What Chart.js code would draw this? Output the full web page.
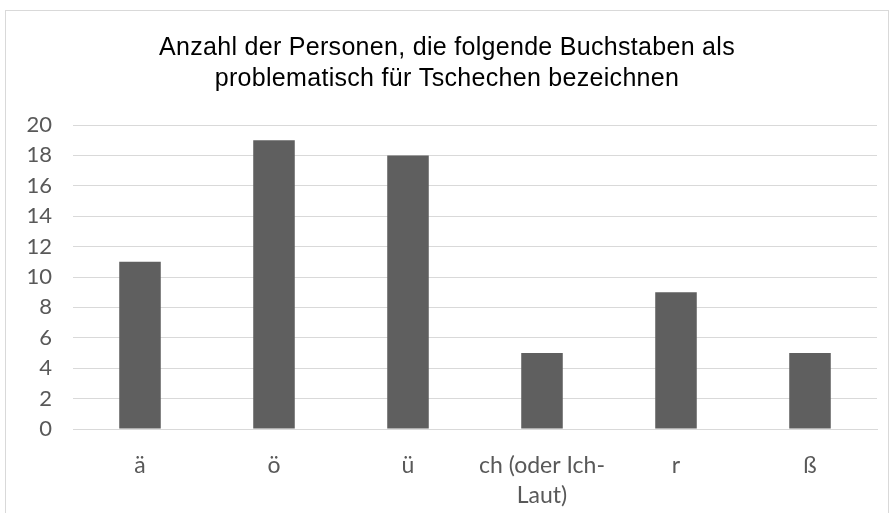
<!DOCTYPE html>
<html><head><meta charset="utf-8">
<script src="https://cdn.jsdelivr.net/npm/chart.js@4/dist/chart.umd.min.js"></script>
<style>
html,body{margin:0;padding:0;background:#fff;}
#wrap{position:absolute;left:0;top:0;width:893px;height:513px;}
#frame{position:absolute;left:5px;top:10px;width:884px;height:510px;border:1px solid #d9d9d9;box-sizing:border-box;}
canvas{position:absolute;left:0;top:0;}
</style></head>
<body>
<div id="wrap"><div id="frame"></div><canvas id="c" width="893" height="513"></canvas></div>
<script>
const categories = ['ä', 'ö', 'ü', ['ch (oder Ich-', 'Laut)'], 'r', 'ß'];
const values = [11, 19, 18, 5, 9, 5];
const titleLines = ['Anzahl der Personen, die folgende Buchstaben als', 'problematisch für Tschechen bezeichnen'];
const yTicks = [0, 2, 4, 6, 8, 10, 12, 14, 16, 18, 20];

const titlePlugin = {
  id: 'customTitle',
  afterDraw(chart) {
    const ctx = chart.ctx;
    ctx.save();
    ctx.font = '25px "Liberation Sans", Arial, sans-serif';
    if ('letterSpacing' in ctx) ctx.letterSpacing = '0.3px';
    ctx.fillStyle = '#000';
    ctx.textAlign = 'center';
    ctx.textBaseline = 'alphabetic';
    ctx.fillText(titleLines[0], 447, 55);
    ctx.fillText(titleLines[1], 447, 86);
    ctx.restore();
  }
};

new Chart(document.getElementById('c'), {
  type: 'bar',
  data: { labels: categories, datasets: [{ data: values, backgroundColor: '#5f5f5f', borderColor: '#5f5f5f', borderWidth: 0, categoryPercentage: 0.31, barPercentage: 1 }] },
  plugins: [titlePlugin],
  options: {
    responsive: false, animation: false, devicePixelRatio: 1,
    layout: { padding: { left: 0, right: 16, top: 125, bottom: 0 } },
    plugins: { legend: { display: false }, tooltip: { enabled: false }, title: { display: false } },
    scales: {
      x: {
        grid: { display: false },
        border: { display: true, color: '#d9d9d9', width: 1 },
        ticks: { color: '#595959', font: { family: 'Lato, "Open Sans", sans-serif', size: 23, lineHeight: 1.3 }, padding: 14, maxRotation: 0, autoSkip: false },
        afterFit(s) { s.height = 84; }
      },
      y: {
        min: 0, max: 20,
        afterBuildTicks(s) { s.ticks = yTicks.map(v => ({ value: v })); },
        grid: { color: '#d9d9d9', lineWidth: 1, drawTicks: false },
        border: { display: false },
        ticks: { color: '#595959', font: { family: 'Lato, "Open Sans", sans-serif', size: 22 }, padding: 21 },
        afterFit(s) { s.width = 73; }
      }
    }
  }
});
</script>
</body></html>
